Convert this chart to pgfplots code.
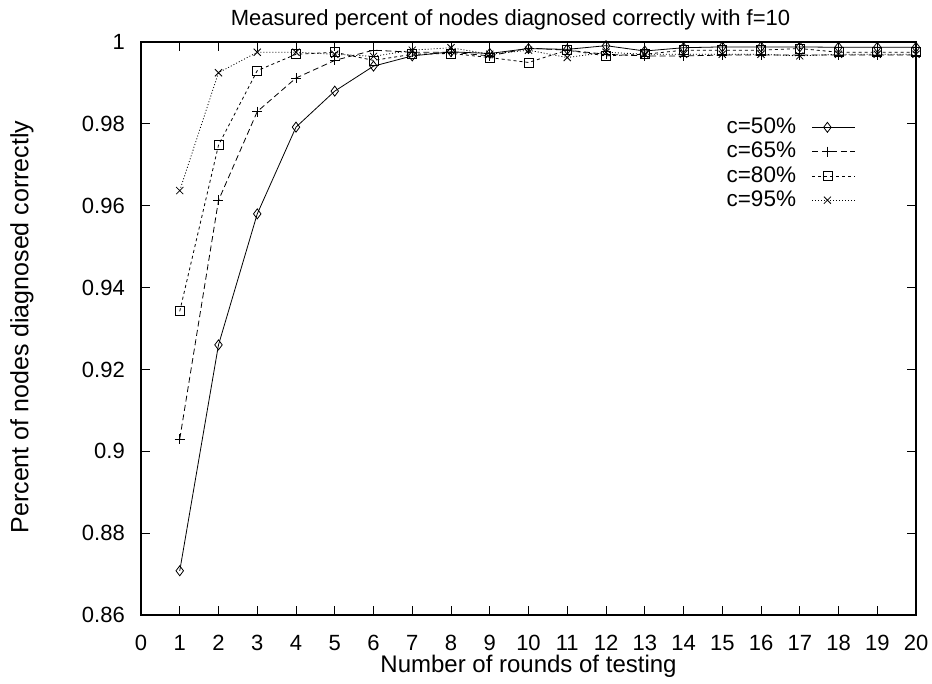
\documentclass[border=0pt]{standalone}
\usepackage{pgfplots}
\pgfplotsset{compat=1.18}
\usepackage{fontspec}
\setmainfont{Liberation Sans}
\begin{document}
\begin{tikzpicture}
\path[use as bounding box] (-141pt,-68pt) rectangle (791pt,615pt);
\begin{axis}[
  at={(0,0)}, anchor=south west,
  scale only axis, width=775pt, height=573pt,
  xmin=0, xmax=20, ymin=0.86, ymax=1,
  xtick={0,1,...,20},
  ytick={0.86,0.88,0.9,0.92,0.94,0.96,0.98,1},
  yticklabels={0.86,0.88,0.9,0.92,0.94,0.96,0.98,1},
  tick align=inside, major tick length=9pt,
  tick style={black, line width=0.8pt},
  axis line style={line width=1.1pt},
  font=\fontsize{22}{25}\selectfont,
  /pgf/number format/assume math mode=true,
  xticklabel style={anchor=base, inner sep=0pt, yshift=-35pt},
  yticklabel style={anchor=east, inner sep=0pt, xshift=-16pt},
  title={Measured percent of nodes diagnosed correctly with f=10},
  title style={at={(0.5,1)}, anchor=base, yshift=10pt, xshift=-18pt, font=\fontsize{22}{25}\selectfont},
  xlabel={Number of rounds of testing},
  xlabel style={at={(0.5,0)}, anchor=base, inner sep=0pt, yshift=-57pt, font=\fontsize{24}{27}\selectfont},
  ylabel={Percent of nodes diagnosed correctly},
  ylabel style={font=\fontsize{25}{28}\selectfont},
  every axis y label/.append style={at={(-0.1535,0.5026)}, anchor=center},
  legend plot pos=right,
  legend cell align=right,
  legend style={at={(0.9226,0.8709)}, anchor=north east, draw=none, fill=none,
    inner sep=0pt, row sep=0pt, font=\fontsize{22.5}{25}\selectfont,
    nodes={inner sep=0pt, text height=17.3pt, text depth=7pt}},
  legend image code/.code={\path (0pt,0pt); \draw[mark repeat=2,mark phase=2] plot coordinates {(16pt,1pt) (31pt,1pt) (59pt,1pt)};},
  clip=false,
]
\addplot[black, line width=0.8pt, mark=diamond, mark size=5pt, mark options={solid, line width=0.8pt}] coordinates {
(1,0.8708) (2,0.9260) (3,0.9580) (4,0.9792) (5,0.9880) (6,0.9941) (7,0.9966) (8,0.9976) (9,0.9972) (10,0.9984)
(11,0.9982) (12,0.9991) (13,0.9978) (14,0.9986) (15,0.9988) (16,0.9988) (17,0.9988) (18,0.9987) (19,0.9987) (20,0.9987)};
\addlegendentry{c=50\%}
\addplot[black, line width=0.8pt, dash pattern=on 6pt off 3.5pt, mark=+, mark size=5pt, mark options={solid, line width=0.8pt}] coordinates {
(1,0.9030) (2,0.9613) (3,0.9830) (4,0.9912) (5,0.9955) (6,0.9980) (7,0.9975) (8,0.9975) (9,0.9966) (10,0.9985)
(11,0.9980) (12,0.9970) (13,0.9966) (14,0.9966) (15,0.9968) (16,0.9968) (17,0.9968) (18,0.9968) (19,0.9968) (20,0.9968)};
\addlegendentry{c=65\%}
\addplot[black, line width=0.8pt, dash pattern=on 3pt off 3pt, mark=square, mark size=4.5pt, mark options={solid, line width=0.8pt}] coordinates {
(1,0.9342) (2,0.9748) (3,0.9930) (4,0.9970) (5,0.9975) (6,0.9955) (7,0.9970) (8,0.9972) (9,0.9962) (10,0.9950)
(11,0.9980) (12,0.9966) (13,0.9970) (14,0.9980) (15,0.9980) (16,0.9980) (17,0.9984) (18,0.9975) (19,0.9975) (20,0.9975)};
\addlegendentry{c=80\%}
\addplot[black, line width=0.8pt, dash pattern=on 1pt off 2pt, mark=x, mark size=5pt, mark options={solid, line width=0.8pt}] coordinates {
(1,0.9637) (2,0.9925) (3,0.9975) (4,0.9975) (5,0.9970) (6,0.9965) (7,0.9980) (8,0.9986) (9,0.9970) (10,0.9980)
(11,0.9962) (12,0.9975) (13,0.9970) (14,0.9970) (15,0.9970) (16,0.9970) (17,0.9966) (18,0.9970) (19,0.9970) (20,0.9970)};
\addlegendentry{c=95\%}
\end{axis}
\end{tikzpicture}
\end{document}
